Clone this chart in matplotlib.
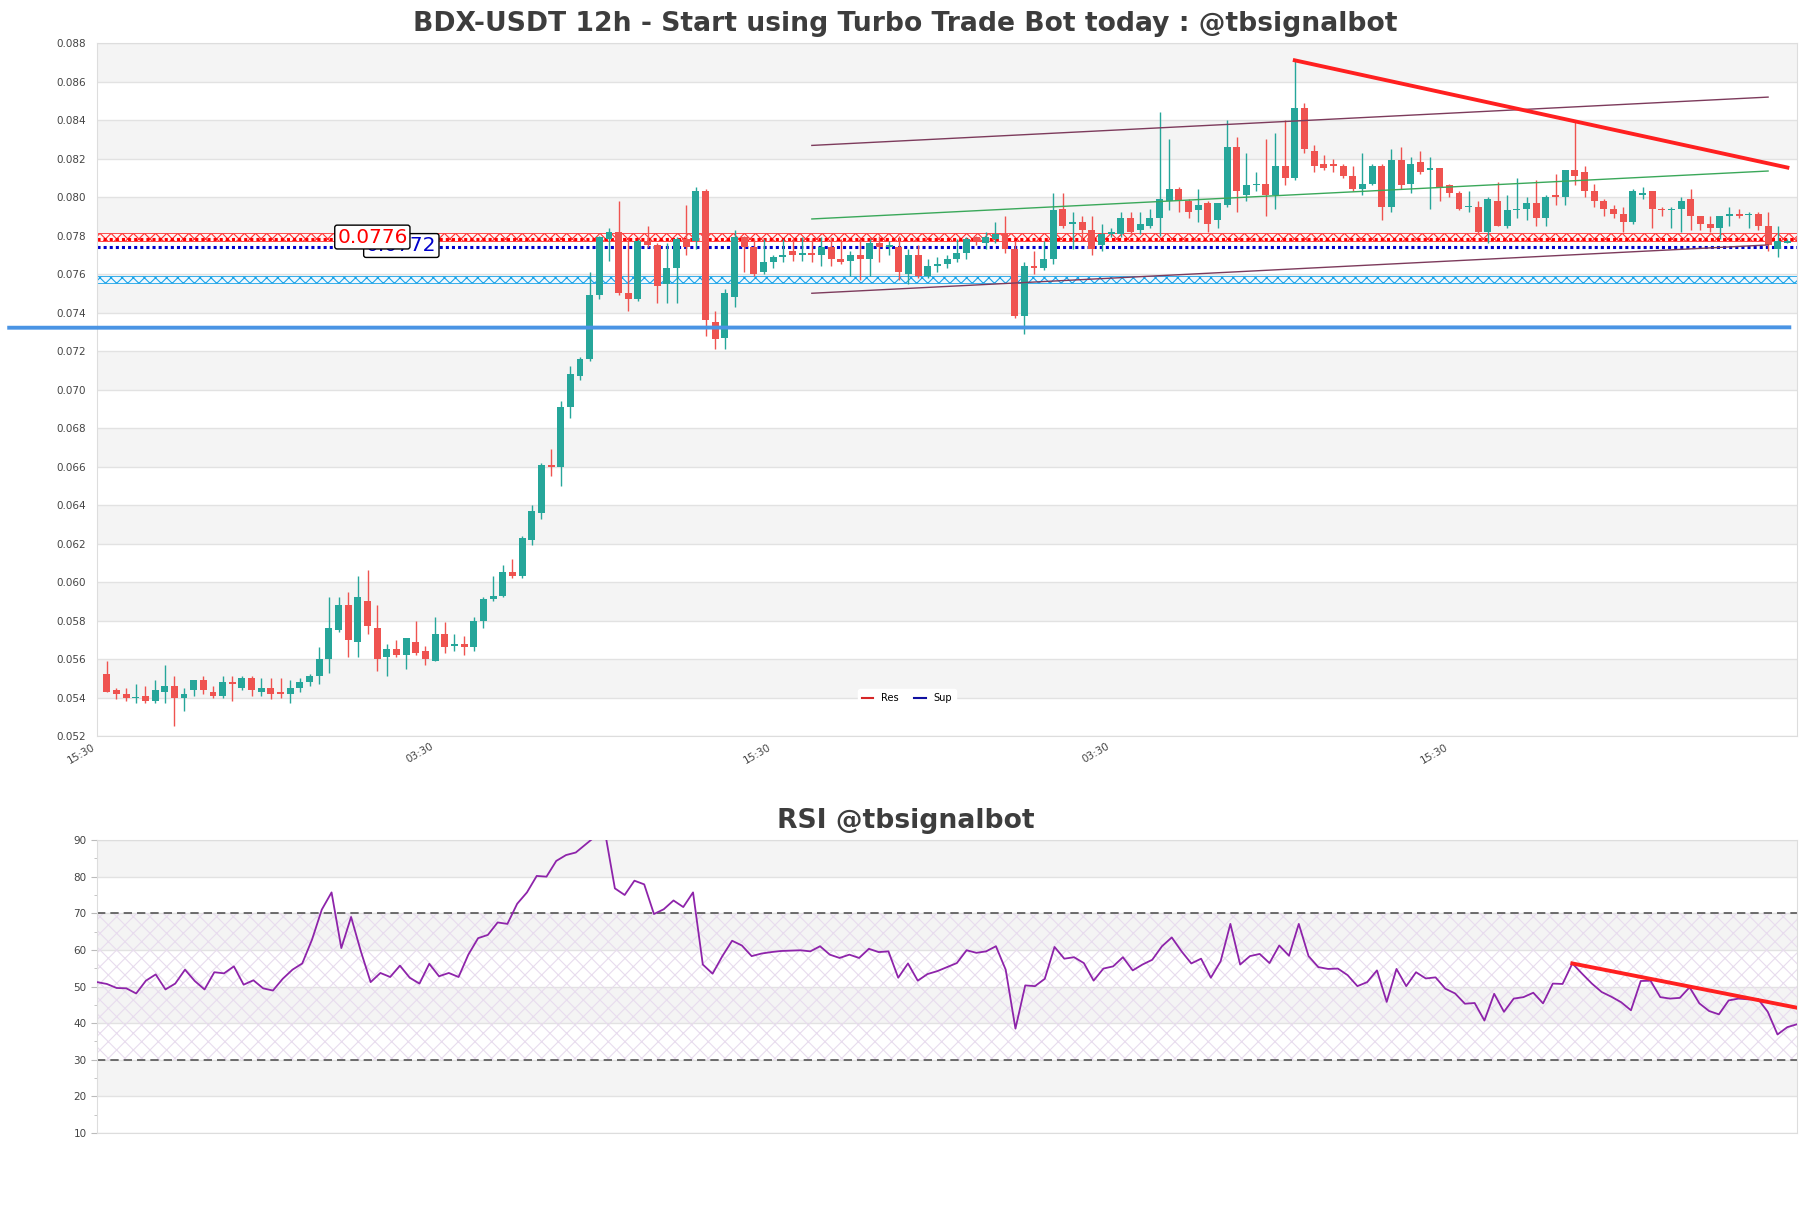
import matplotlib
matplotlib.use("Agg")
import matplotlib.pyplot as plt
from matplotlib.lines import Line2D
import numpy as np

plt.rcParams['hatch.linewidth'] = 0.8

# candle data (12h)
opens = [0.0552, 0.0544, 0.0542, 0.0540, 0.0541, 0.0538, 0.0543, 0.0546, 0.0540, 0.0544,
         0.0549, 0.0543, 0.0541, 0.0548, 0.0545, 0.0550, 0.0543, 0.0545, 0.0543, 0.0542,
         0.0545, 0.0548, 0.0551, 0.0560, 0.0575, 0.0588, 0.0569, 0.0590, 0.0576, 0.0561,
         0.0565, 0.0562, 0.0569, 0.0564, 0.0559, 0.0573, 0.0567, 0.0568, 0.0566, 0.0580,
         0.0591, 0.0593, 0.0605, 0.0603, 0.0622, 0.0636, 0.0661, 0.0660, 0.0691, 0.0707,
         0.0716, 0.0749, 0.0778, 0.0782, 0.0750, 0.0747, 0.0777, 0.0775, 0.0755, 0.0763,
         0.0778, 0.0777, 0.0803, 0.0735, 0.0727, 0.0748, 0.0779, 0.0774, 0.0761, 0.0766,
         0.0769, 0.0772, 0.0770, 0.0771, 0.0770, 0.0774, 0.0768, 0.0767, 0.0770, 0.0768,
         0.0776, 0.0774, 0.0774, 0.0760, 0.0770, 0.0759, 0.0764, 0.0765, 0.0768, 0.0771,
         0.0779, 0.0776, 0.0778, 0.0781, 0.0773, 0.0738, 0.0764, 0.0763, 0.0768, 0.0794,
         0.0786, 0.0787, 0.0783, 0.0775, 0.0781, 0.0781, 0.0789, 0.0783, 0.0785, 0.0789,
         0.0798, 0.0804, 0.0798, 0.0793, 0.0797, 0.0788, 0.0796, 0.0826, 0.0801, 0.0806,
         0.0807, 0.0801, 0.0816, 0.0810, 0.0846, 0.0824, 0.0817, 0.0817, 0.0816, 0.0811,
         0.0804, 0.0807, 0.0816, 0.0795, 0.0819, 0.0807, 0.0818, 0.0814, 0.0815, 0.0806,
         0.0802, 0.0795, 0.0795, 0.0782, 0.0798, 0.0785, 0.0793, 0.0794, 0.0797, 0.0789,
         0.0801, 0.0800, 0.0814, 0.0813, 0.0803, 0.0798, 0.0794, 0.0791, 0.0787, 0.0801,
         0.0803, 0.0794, 0.0793, 0.0794, 0.0799, 0.0790, 0.0786, 0.0784, 0.0790, 0.0791,
         0.07905, 0.0791, 0.0785, 0.0773, 0.0776]
highs = [0.0559, 0.0545, 0.0545, 0.0547, 0.0546, 0.0549, 0.0557, 0.0551, 0.0545, 0.0549,
         0.0551, 0.0546, 0.0551, 0.0551, 0.0551, 0.0551, 0.0550, 0.0550, 0.0550, 0.0549,
         0.0550, 0.0552, 0.0566, 0.0592, 0.0592, 0.0595, 0.0603, 0.0606, 0.0588, 0.0568,
         0.0570, 0.0571, 0.0580, 0.0567, 0.0582, 0.0579, 0.0573, 0.0572, 0.0582, 0.0592,
         0.0603, 0.0609, 0.0612, 0.0624, 0.0640, 0.0662, 0.0669, 0.0694, 0.0712, 0.0717,
         0.0761, 0.0780, 0.0784, 0.0798, 0.0778, 0.0778, 0.0785, 0.0776, 0.0776, 0.0779,
         0.0796, 0.0805, 0.0804, 0.0741, 0.0752, 0.0783, 0.0780, 0.0778, 0.0778, 0.0770,
         0.0778, 0.0778, 0.0779, 0.0778, 0.0779, 0.0779, 0.0778, 0.0772, 0.0778, 0.0778,
         0.0780, 0.0777, 0.0780, 0.0773, 0.0775, 0.0768, 0.0769, 0.0770, 0.0778, 0.0779,
         0.0780, 0.0782, 0.0787, 0.0790, 0.0777, 0.0766, 0.0772, 0.0777, 0.0802, 0.0802,
         0.0792, 0.0790, 0.0790, 0.0786, 0.0784, 0.0792, 0.0792, 0.0792, 0.0794, 0.0844,
         0.0830, 0.0805, 0.0799, 0.0804, 0.0798, 0.0797, 0.0840, 0.0831, 0.0823, 0.0813,
         0.0830, 0.0833, 0.0840, 0.0871, 0.0849, 0.0827, 0.0822, 0.0820, 0.0817, 0.0816,
         0.0823, 0.0817, 0.0817, 0.0825, 0.0826, 0.0821, 0.0824, 0.0821, 0.0815, 0.0807,
         0.0803, 0.0803, 0.0798, 0.0800, 0.0808, 0.0801, 0.0810, 0.0800, 0.0809, 0.0801,
         0.0812, 0.0814, 0.0839, 0.0816, 0.0807, 0.0799, 0.0796, 0.0795, 0.0804, 0.0805,
         0.0803, 0.0795, 0.0795, 0.0800, 0.0804, 0.0790, 0.0790, 0.0790, 0.0795, 0.0794,
         0.0792, 0.0792, 0.0792, 0.0785, 0.0778]
lows = [0.0543, 0.0539, 0.0538, 0.0537, 0.0537, 0.0537, 0.0537, 0.0525, 0.0533, 0.0541,
        0.0542, 0.0540, 0.0540, 0.0538, 0.0544, 0.0541, 0.0541, 0.0539, 0.0540, 0.0537,
        0.0543, 0.0546, 0.0547, 0.0553, 0.0574, 0.0561, 0.0561, 0.0573, 0.0554, 0.0551,
        0.0561, 0.0555, 0.0562, 0.0557, 0.0559, 0.0563, 0.0564, 0.0562, 0.0564, 0.0576,
        0.0590, 0.0592, 0.0602, 0.0602, 0.0619, 0.0633, 0.0655, 0.0650, 0.0685, 0.0705,
        0.0715, 0.0747, 0.0767, 0.0749, 0.0741, 0.0746, 0.0774, 0.0745, 0.0745, 0.0745,
        0.0770, 0.0773, 0.0728, 0.0721, 0.0721, 0.0743, 0.0761, 0.0759, 0.0760, 0.0763,
        0.0766, 0.0767, 0.0767, 0.0766, 0.0764, 0.0764, 0.0765, 0.0759, 0.0757, 0.0759,
        0.0766, 0.0770, 0.0757, 0.0755, 0.0758, 0.0758, 0.0761, 0.0763, 0.0766, 0.0768,
        0.0775, 0.0773, 0.0776, 0.0771, 0.0737, 0.0729, 0.0760, 0.0762, 0.0765, 0.0784,
        0.0773, 0.0777, 0.0770, 0.0772, 0.0779, 0.0779, 0.0780, 0.0781, 0.0784, 0.0780,
        0.0793, 0.0792, 0.0789, 0.0787, 0.0782, 0.0784, 0.0795, 0.0792, 0.0798, 0.0803,
        0.0790, 0.0794, 0.0806, 0.0809, 0.0823, 0.0813, 0.0814, 0.0813, 0.0810, 0.0803,
        0.0801, 0.0806, 0.0788, 0.0792, 0.0804, 0.0802, 0.0812, 0.0794, 0.0798, 0.0800,
        0.0793, 0.0792, 0.0781, 0.0776, 0.0785, 0.0784, 0.0789, 0.0788, 0.0785, 0.0785,
        0.0796, 0.0796, 0.0806, 0.0800, 0.0795, 0.0790, 0.0789, 0.0782, 0.0786, 0.0799,
        0.0784, 0.0790, 0.0784, 0.0782, 0.0783, 0.0783, 0.0782, 0.0778, 0.0785, 0.0789,
        0.0784, 0.0783, 0.0772, 0.0769, 0.0776]
closes = [0.0543, 0.0542, 0.0540, 0.05402, 0.0538, 0.0544, 0.0546, 0.0540, 0.0542, 0.0549,
          0.0544, 0.0541, 0.0548, 0.0547, 0.0550, 0.0544, 0.0545, 0.0542, 0.0542, 0.0545,
          0.0548, 0.0551, 0.0560, 0.0576, 0.0588, 0.0570, 0.0592, 0.0577, 0.0560, 0.0565,
          0.0562, 0.0571, 0.0563, 0.0560, 0.0573, 0.0566, 0.0568, 0.0566, 0.0580, 0.0591,
          0.0593, 0.0605, 0.0603, 0.0623, 0.0637, 0.0661, 0.0660, 0.0691, 0.0708, 0.0716,
          0.0749, 0.0779, 0.0782, 0.0750, 0.0747, 0.0777, 0.0775, 0.0754, 0.0763, 0.0778,
          0.0774, 0.0803, 0.0736, 0.0726, 0.0750, 0.0779, 0.0774, 0.0760, 0.0766, 0.0769,
          0.0770, 0.0770, 0.0771, 0.0770, 0.0774, 0.0768, 0.0766, 0.0770, 0.0768, 0.0776,
          0.0774, 0.0775, 0.0761, 0.0770, 0.0759, 0.0764, 0.0765, 0.0768, 0.0771, 0.0778,
          0.0777, 0.0779, 0.0781, 0.0773, 0.0738, 0.0764, 0.0763, 0.0768, 0.0793, 0.0785,
          0.0787, 0.0783, 0.0773, 0.0781, 0.0782, 0.0789, 0.0782, 0.0786, 0.0789, 0.0799,
          0.0804, 0.0798, 0.0792, 0.0796, 0.0786, 0.0797, 0.0826, 0.0803, 0.0806, 0.0807,
          0.0801, 0.0816, 0.0810, 0.0846, 0.0825, 0.0816, 0.0815, 0.0816, 0.0811, 0.0804,
          0.0807, 0.0816, 0.0795, 0.0819, 0.0806, 0.0817, 0.0813, 0.0815, 0.0805, 0.0802,
          0.0794, 0.07952, 0.0782, 0.0799, 0.0785, 0.0793, 0.0794, 0.0797, 0.0789, 0.0800,
          0.0800, 0.0814, 0.0811, 0.0803, 0.0798, 0.0794, 0.0791, 0.0787, 0.0803, 0.0802,
          0.0794, 0.0793, 0.0794, 0.0798, 0.0790, 0.0786, 0.0784, 0.0790, 0.0791, 0.0790,
          0.0791, 0.0785, 0.0775, 0.0777, 0.0777]

rsi = [51.2, 50.7, 49.6, 49.5, 48.1, 51.6, 53.3, 49.2, 50.8, 54.6,
       51.5, 49.2, 53.9, 53.6, 55.5, 50.5, 51.7, 49.5, 48.9, 52.1,
       54.6, 56.3, 62.8, 71.0, 75.7, 60.5, 69.0, 59.6, 51.2, 53.7,
       52.6, 55.7, 52.4, 50.8, 56.2, 52.8, 53.7, 52.6, 58.7, 63.2,
       64.1, 67.5, 67.1, 72.6, 75.7, 80.2, 80.0, 84.3, 85.9, 86.6,
       88.8, 91.0, 92.0, 76.8, 75.0, 78.9, 77.9, 69.8, 71.1, 73.5,
       71.7, 75.7, 56.0, 53.5, 58.3, 62.5, 61.2, 58.3, 59.0, 59.4,
       59.7, 59.8, 59.9, 59.6, 61.0, 58.7, 57.8, 58.7, 57.8, 60.3,
       59.4, 59.6, 52.4, 56.3, 51.6, 53.4, 54.2, 55.3, 56.4, 59.9,
       59.2, 59.6, 61.0, 54.6, 38.5, 50.3, 50.1, 52.1, 60.8, 57.6,
       58.0, 56.4, 51.6, 54.9, 55.5, 58.0, 54.4, 56.0, 57.3, 61.0,
       63.4, 59.6, 56.3, 57.6, 52.4, 56.9, 67.1, 56.0, 58.3, 58.9,
       56.4, 61.2, 58.4, 67.1, 58.3, 55.3, 54.8, 54.9, 53.1, 50.1,
       51.2, 54.4, 45.8, 54.8, 50.1, 53.9, 52.2, 52.5, 49.4, 48.1,
       45.3, 45.5, 40.7, 48.0, 43.1, 46.7, 47.1, 48.3, 45.4, 50.8,
       50.7, 56.3, 53.5, 50.8, 48.5, 47.2, 45.7, 43.5, 51.5, 51.6,
       47.1, 46.7, 46.9, 49.8, 45.4, 43.3, 42.4, 46.2, 46.7, 46.5,
       46.6, 43.1, 36.9, 38.9, 39.7]

time_labels = ['15:30', '03:30', '15:30', '03:30', '15:30']
tick_idx = [-1, 34, 69, 104, 139]

res_zone = (0.0777, 0.07815)
res_level = 0.07783
sup_level = 0.07740
sup_zone = (0.07552, 0.07589)
blue_level = 0.07321

# trend lines: (x0, y0, x1, y1)
down_trend = (123, 0.0871, 174, 0.08153)
chan_upper = (73, 0.08268, 172, 0.08519)
chan_lower = (73, 0.07500, 172, 0.07751)
chan_mid = (73, 0.07886, 172, 0.08135)
rsi_trend = (151, 56.3, 174, 44.2)

up_col = '#26a69a'
down_col = '#ef5350'
title_col = '#3d3d3d'

fig = plt.figure(figsize=(18.11, 12.08), dpi=100)
ax = fig.add_axes([0.0536, 0.3907, 0.9387, 0.5737])
ax2 = fig.add_axes([0.0536, 0.0621, 0.9387, 0.2425])

# ---- price panel ----
y_ticks = np.round(np.arange(0.052, 0.0881, 0.002), 3)
for k, lo in enumerate(y_ticks[:-1]):
    if k % 2 == 1:
        ax.axhspan(lo, lo + 0.002, color='#f4f4f4', zorder=0, lw=0)
for t in y_ticks:
    ax.axhline(t, color='#e2e2e2', lw=1, zorder=0.5)

ax.axhspan(res_zone[0], res_zone[1], facecolor='#fff3f3', edgecolor='#ff3030', hatch='xxx', lw=0.6, zorder=1)
ax.axhline(res_level, color='red', lw=2.2, ls=(0, (1, 1)), zorder=1.5)
ax.axhline(sup_level, color='#0000cc', lw=2.2, ls=(0, (1, 1)), zorder=1.5)
ax.axhspan(sup_zone[0], sup_zone[1], facecolor='#eef8ff', edgecolor='#1aa3e8', hatch='xxx', lw=0.6, zorder=1)

x = np.arange(len(opens))
o = np.array(opens)
c = np.array(closes)
h = np.array(highs)
l = np.array(lows)
cols = np.where(c >= o, up_col, down_col)
ax.vlines(x, l, h, colors=cols, lw=1, zorder=3)
body = np.maximum(np.abs(c - o), 0.00003)
ax.bar(x, body, bottom=np.minimum(o, c), width=0.72, color=cols, zorder=3.5)

ax.plot([-10.3, 174.4], [blue_level, blue_level + 0.00002], color='#4a94e4', lw=2.8,
        clip_on=False, zorder=4, solid_capstyle='butt')
ax.plot([down_trend[0], down_trend[2]], [down_trend[1], down_trend[3]], color='#ff2020', lw=2.8, zorder=5)
for ln in (chan_upper, chan_lower):
    ax.plot([ln[0], ln[2]], [ln[1], ln[3]], color='#7d3b5c', lw=1, zorder=4)
ax.plot([chan_mid[0], chan_mid[2]], [chan_mid[1], chan_mid[3]], color='#3aa85a', lw=1, zorder=4)

ax.text(30.5, 0.07748, '0.0772', color='#0000cc', fontsize=14.5, ha='center', va='center', zorder=6,
        bbox=dict(boxstyle='round,pad=0.12', fc='white', ec='black', lw=1))
ax.text(27.5, 0.07792, '0.0776', color='red', fontsize=14.5, ha='center', va='center', zorder=7,
        bbox=dict(boxstyle='round,pad=0.12', fc='white', ec='black', lw=1))

ax.set_xlim(-1, 175)
ax.set_ylim(0.052, 0.088)
ax.set_yticks(y_ticks)
ax.set_yticklabels(['%.3f' % t for t in y_ticks])
ax.set_xticks(tick_idx)
ax.set_xticklabels(time_labels, rotation=30, ha='right')
ax.tick_params(axis='both', length=0, labelsize=7.5, labelcolor='#444444')
ax.tick_params(axis='y', pad=8)
ax.tick_params(axis='x', pad=4)
for s in ax.spines.values():
    s.set_color('#dddddd')

handles = [Line2D([], [], color='#d62728', lw=1.5), Line2D([], [], color='#1010a0', lw=1.5)]
ax.legend(handles, ['Res', 'Sup'], loc='lower center', bbox_to_anchor=(0.4765, 0.035), ncol=2,
          fontsize=7, frameon=True, facecolor='white', edgecolor='white', framealpha=1,
          handlelength=1.2, columnspacing=1.6)

# ---- RSI panel ----
for lo in (20, 40, 60, 80):
    ax2.axhspan(lo, lo + 10, color='#f4f4f4', zorder=0, lw=0)
for t in range(10, 91, 10):
    ax2.axhline(t, color='#e2e2e2', lw=1, zorder=0.5)
ax2.axhspan(30, 70, facecolor='none', edgecolor='#e8dcee', hatch='xx', lw=0, zorder=1)
ax2.axhline(70, color='#555555', lw=1.2, ls=(0, (5, 3)), zorder=2)
ax2.axhline(30, color='#555555', lw=1.2, ls=(0, (5, 3)), zorder=2)
ax2.plot(np.arange(len(rsi)), rsi, color='#8e24aa', lw=1.3, zorder=3)
ax2.plot([rsi_trend[0], rsi_trend[2]], [rsi_trend[1], rsi_trend[3]], color='#ff2020', lw=2.8, zorder=4)
ax2.set_xlim(0, len(rsi) - 1)
ax2.set_ylim(10, 90)
ax2.set_yticks(range(10, 91, 10))
ax2.set_yticks(range(15, 90, 10), minor=True)
ax2.set_xticks([])
ax2.tick_params(axis='y', which='major', length=4, color='#bbbbbb', labelsize=7.5, labelcolor='#444444')
ax2.tick_params(axis='y', which='minor', length=2.5, color='#bbbbbb')
for s in ax2.spines.values():
    s.set_color('#dddddd')

fig.text(0.5, 1 - 24 / 1208, 'BDX-USDT 12h - Start using Turbo Trade Bot today : @tbsignalbot',
         ha='center', va='center', fontsize=19.2, fontweight='bold', color=title_col)
fig.text(0.5, 1 - 821 / 1208, 'RSI @tbsignalbot', ha='center', va='center',
         fontsize=19.2, fontweight='bold', color=title_col)

fig.savefig('out.png', dpi=100, facecolor='white')
